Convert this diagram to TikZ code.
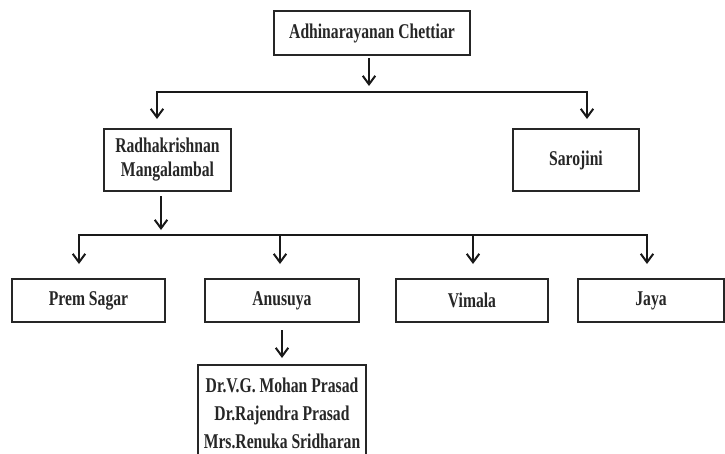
\documentclass[tikz,border=0pt]{standalone}
\usepackage{fontspec}
\setmainfont{Liberation Serif}[FakeStretch=0.745]
\usetikzlibrary{arrows.meta}
\begin{document}
\begin{tikzpicture}[x=1pt,y=-1pt,
  box/.style={draw=black!85, line width=1.6pt, align=center, inner sep=0pt,
    font=\bfseries\fontsize{21}{24}\selectfont, text=black!85},
  conn/.style={draw=black!90, line width=2pt},
  arr/.style={conn, -{Straight Barb[length=8.5pt,width=12.5pt]}},
  darr/.style={conn, {Straight Barb[length=8.5pt,width=12.5pt]}-{Straight Barb[length=8.5pt,width=12.5pt]}}
]
\useasboundingbox (0,0) rectangle (725,453);
% boxes
\node[box, minimum width=196pt, minimum height=44pt] (A) at (372,33) {Adhinarayanan Chettiar};
\node[box, minimum width=127pt, minimum height=62pt] (R) at (167.5,160) {Radhakrishnan\\Mangalambal};
\node[box, minimum width=126pt, minimum height=62pt] (S) at (576,160) {Sarojini};
\node[box, minimum width=153pt, minimum height=43pt] (P) at (88.5,300.5) {Prem Sagar};
\node[box, minimum width=154pt, minimum height=43pt] (N) at (282,300.5) {Anusuya};
\node[box, minimum width=152pt, minimum height=43pt] (V) at (472,300.5) {Vimala};
\node[box, minimum width=146pt, minimum height=43pt] (J) at (651,300.5) {Jaya};
\node[box, minimum width=168pt, minimum height=96pt,
  font=\bfseries\fontsize{21}{28}\selectfont] (D) at (282,413)
  {Dr.V.G. Mohan Prasad\\Dr.Rajendra Prasad\\Mrs.Renuka Sridharan};
% connector points
\coordinate (a1) at (369,58);
\coordinate (a2) at (369,86);
\coordinate (h1l) at (157,92);
\coordinate (h1r) at (587,92);
\coordinate (r0) at (157,119);
\coordinate (s0) at (587,119);
\coordinate (b1) at (161,196);
\coordinate (b2) at (161,230);
\coordinate (h2l) at (79,235);
\coordinate (h2r) at (647,235);
\coordinate (h2a) at (280,235);
\coordinate (h2v) at (473,235);
\coordinate (p0) at (79,264);
\coordinate (j0) at (647,264);
\coordinate (n0) at (280,264);
\coordinate (v0) at (473,264);
\coordinate (c1) at (282,330);
\coordinate (c2) at (282,358);
% connectors
\draw[arr] (a1) -- (a2);
\draw[darr] (r0) -- (h1l) -- (h1r) -- (s0);
\draw[arr] (b1) -- (b2);
\draw[darr] (p0) -- (h2l) -- (h2r) -- (j0);
\draw[arr] (h2a) -- (n0);
\draw[arr] (h2v) -- (v0);
\draw[arr] (c1) -- (c2);
\end{tikzpicture}
\end{document}
